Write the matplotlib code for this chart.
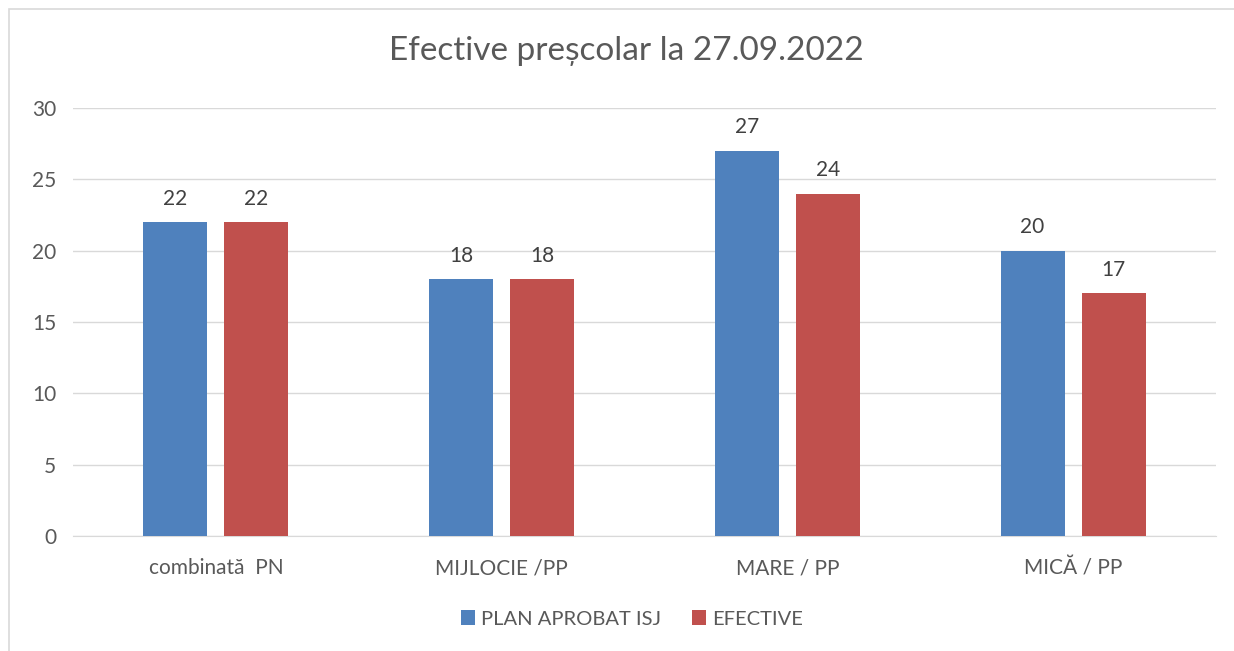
import numpy as np
import matplotlib
matplotlib.use("Agg")
import matplotlib.pyplot as plt
from matplotlib.patches import Rectangle

categories = ["combinată  PN", "MIJLOCIE /PP", "MARE / PP", "MICĂ / PP"]
plan_values = [22, 18, 27, 20]
efective_values = [22, 18, 24, 17]
series_labels = ["PLAN APROBAT ISJ", "EFECTIVE"]
y_ticks = [0, 5, 10, 15, 20, 25, 30]

BLUE = "#4f81bd"
RED = "#c0504d"
TEXT = "#595959"
GRID = "#d9d9d9"

plt.rcParams["font.family"] = ["Lato", "DejaVu Sans"]

fig = plt.figure(figsize=(12.34, 6.51), dpi=100)
fig.patch.set_facecolor("white")
ax = fig.add_axes([73 / 1234, 1 - 536 / 651, 1143 / 1234, 428 / 651])

# outer chart frame (runs off the right/bottom edge like the screenshot)
fig.patches.append(Rectangle((9 / 1234, -0.1), 1.2, 1 - 9 / 651 + 0.1,
                             transform=fig.transFigure, fill=False,
                             edgecolor="#d9d9d9", lw=1.2))

x = np.arange(len(categories))
w = 0.224
off = 0.142
b1 = ax.bar(x - off, plan_values, w, color=BLUE, label=series_labels[0], zorder=3)
b2 = ax.bar(x + off, efective_values, w, color=RED, label=series_labels[1], zorder=3)
for bars in (b1, b2):
    for r in bars:
        ax.text(r.get_x() + r.get_width() / 2, r.get_height() + 0.95,
                f"{int(r.get_height())}", ha="center", va="bottom",
                fontsize=15, color="#404040")

ax.set_xlim(-0.5, len(categories) - 0.5)
ax.set_ylim(0, 30)
ax.set_yticks(y_ticks)
ax.set_xticks(x)
ax.set_xticklabels(categories)
ax.tick_params(axis="both", length=0, labelsize=15, colors=TEXT)
ax.tick_params(axis="y", pad=12)
ax.tick_params(axis="x", pad=16)
ax.grid(axis="y", color=GRID, lw=1, zorder=0)
for s in ["left", "right", "top"]:
    ax.spines[s].set_visible(False)
ax.spines["bottom"].set_color(GRID)

fig.text(0.508, 1 - 51 / 651, "Efective preșcolar la 27.09.2022", ha="center",
         va="center", fontsize=24, color=TEXT)

fig.legend(handles=[b1, b2], loc="center", bbox_to_anchor=(0.512, 1 - 619 / 651),
           ncol=2, frameon=False, fontsize=14.5, handlelength=0.7, handleheight=0.7,
           columnspacing=1.5, handletextpad=0.3, labelcolor=TEXT)

fig.savefig("out.png", dpi=100, facecolor="white")
